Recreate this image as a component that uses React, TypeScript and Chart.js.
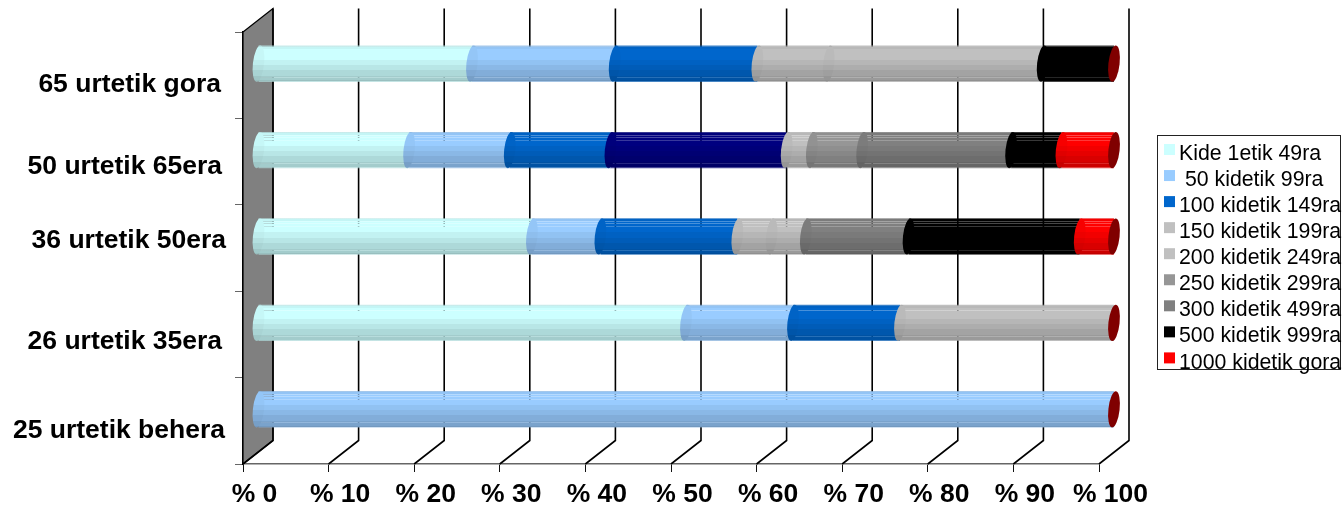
import React, { useEffect, useRef } from "react";
import { Chart, registerables } from "chart.js";

Chart.register(...registerables);

const categories = ["65 urtetik gora", "50 urtetik 65era", "36 urtetik 50era", "26 urtetik 35era", "25 urtetik behera"];

const kide1to49 = [25, 17.65, 32, 50, 0];
const kide50to99 = [16.67, 11.76, 8, 12.5, 100];
const kide100to149 = [16.67, 11.76, 16, 12.5, 0];
const kideNavy = [0, 20.59, 0, 0, 0];
const kide150to199 = [8.33, 2.94, 4, 25, 0];
const kide200to249 = [25, 0, 4, 0, 0];
const kide250to299 = [0, 5.88, 0, 0, 0];
const kide300to499 = [0, 17.4, 12, 0, 0];
const kide500to999 = [8.33, 5.88, 20, 0, 0];
const kide1000plus = [0, 6.13, 4, 0, 0];

const seriesLabels = ["Kide 1etik 49ra", " 50 kidetik 99ra", "100 kidetik 149ra", "", "150 kidetik 199ra", "200 kidetik 249ra", "250 kidetik 299ra", "300 kidetik 499ra", "500 kidetik 999ra", "1000 kidetik gora"];
const seriesColors = ["#ccffff", "#99ccff", "#0066cc", "#000080", "#c0c0c0", "#c0c0c0", "#969696", "#808080", "#000000", "#ff0000"];
const seriesValues = [kide1to49, kide50to99, kide100to149, kideNavy, kide150to199, kide200to249, kide250to299, kide300to499, kide500to999, kide1000plus];

const tickValues = [0, 10, 20, 30, 40, 50, 60, 70, 80, 90, 100];

// pseudo-3D projection
const FONT = "Liberation Sans";
const DEPTH_X = 30;
const DEPTH_Y = -23.5;
const BAR_DX = 15;
const BAR_DY = -11.5;
const CAP_RX = 5.6;
const CAP_TILT = 0.11;

// [start px of 36, shade, alpha]
const stripedBands: number[][] = [
  [0, 0.9, 0.78], [1, 0.96, 1], [3, 1, 0.72], [3.7, 1, 1], [5, 1, 0.72], [5.8, 1, 1], [8, 1, 0.78], [8.7, 1, 1],
  [14, 0.95, 1], [19, 0.9, 1], [24, 0.85, 1], [30, 0.8, 1], [31, 0.84, 0.85], [32, 0.8, 1], [34.5, 0.75, 1], [35.2, 0.85, 0.72],
];
const plainBands: number[][] = [
  [0, 0.9, 0.85], [1, 0.97, 1], [14, 0.93, 1], [19, 0.88, 1], [24, 0.83, 1], [30, 0.78, 1], [34.5, 0.74, 1], [35.2, 0.8, 0.85],
];

function rgb(hex: string) {
  return [1, 3, 5].map((i) => parseInt(hex.slice(i, i + 2), 16));
}

function bandGradient(ctx: CanvasRenderingContext2D, hex: string, cy: number, bands: number[][]) {
  const h = 36.4;
  const g = ctx.createLinearGradient(0, cy - h / 2, 0, cy + h / 2);
  const [r, gg, b] = rgb(hex);
  bands.forEach((band, i) => {
    const from = band[0] / 36;
    const to = i + 1 < bands.length ? bands[i + 1][0] / 36 : 1;
    const c = `rgba(${Math.round(r * band[1])},${Math.round(gg * band[1])},${Math.round(b * band[1])},${band[2]})`;
    g.addColorStop(from, c);
    g.addColorStop(Math.min(1, to), c);
  });
  return g;
}

const labelNudges = [[-5, 9], [-4, 5], [0, -7], [-4, 7], [-1, 10]];

const sceneryPlugin = {
  id: "scenery",
  beforeDatasetsDraw(chart: any) {
    const { ctx, scales, chartArea } = chart;
    const { top, bottom, left } = chartArea;
    ctx.save();
    ctx.beginPath();
    ctx.moveTo(left, top);
    ctx.lineTo(left + DEPTH_X, top + DEPTH_Y);
    ctx.lineTo(left + DEPTH_X, bottom + DEPTH_Y);
    ctx.lineTo(left, bottom);
    ctx.closePath();
    ctx.fillStyle = "#808080";
    ctx.fill();
    ctx.strokeStyle = "#000";
    ctx.lineWidth = 1.2;
    ctx.stroke();
    ctx.lineWidth = 1.6;
    tickValues.forEach((v) => {
      const x = scales.x.getPixelForValue(v);
      ctx.beginPath();
      ctx.moveTo(x, bottom);
      ctx.lineTo(x + DEPTH_X, bottom + DEPTH_Y);
      ctx.lineTo(x + DEPTH_X, top + DEPTH_Y);
      ctx.stroke();
    });
    ctx.restore();
    ctx.save();
    ctx.translate(BAR_DX, BAR_DY);
  },
  afterDatasetsDraw(chart: any) {
    const { ctx, scales } = chart;
    chart.data.datasets.forEach((ds: any, i: number) => {
      chart.getDatasetMeta(i).data.forEach((el: any, j: number) => {
        if (!ds.data[j]) return;
        ctx.beginPath();
        ctx.ellipse(el.base, el.y, CAP_RX, el.height / 2, CAP_TILT, 0, Math.PI * 2);
        ctx.fillStyle = bandGradient(ctx, seriesColors[i], el.y, plainBands);
        ctx.fill();
      });
    });
    categories.forEach((_, j) => {
      const cy = scales.y.getPixelForValue(j);
      ctx.beginPath();
      ctx.ellipse(scales.x.getPixelForValue(100), cy, CAP_RX, 18.2, CAP_TILT, 0, Math.PI * 2);
      ctx.fillStyle = "#800000";
      ctx.fill();
    });
    ctx.restore();
  },
  afterDraw(chart: any) {
    const { ctx, scales, chartArea } = chart;
    ctx.save();
    // category labels
    ctx.font = `bold 26.5px "${FONT}"`;
    ctx.fillStyle = "#000";
    ctx.textAlign = "right";
    ctx.textBaseline = "middle";
    categories.forEach((label, j) => {
      const [dx, dy] = labelNudges[j];
      ctx.fillText(label, chartArea.left - 17 + dx, scales.y.getPixelForValue(j) + dy);
    });
    // legend
    ctx.fillStyle = "#fff";
    ctx.strokeStyle = "#222";
    ctx.lineWidth = 1;
    ctx.fillRect(1157.5, 135.5, 183, 234);
    ctx.strokeRect(1157.5, 135.5, 183, 234);
    ctx.font = `21.3px "${FONT}"`;
    ctx.textAlign = "left";
    ctx.textBaseline = "alphabetic";
    let row = 0;
    seriesLabels.forEach((label, i) => {
      if (!label) return;
      const cy = 149.5 + row * 26.05;
      ctx.fillStyle = seriesColors[i];
      ctx.fillRect(1164, cy - 5.5, 11, 11);
      ctx.fillStyle = "#000";
      ctx.fillText(label, 1179, cy + 10.6);
      row += 1;
    });
    ctx.restore();
  },
};

export default function App() {
  const ref = useRef<HTMLCanvasElement>(null);
  useEffect(() => {
    document.body.style.margin = "0";
    const chart = new Chart(ref.current as HTMLCanvasElement, {
      type: "bar",
      data: {
        labels: categories,
        datasets: seriesValues.map((values, i) => ({
          label: seriesLabels[i],
          data: values,
          borderWidth: 0,
          categoryPercentage: 0.4213,
          barPercentage: 1,
          clip: false as any,
          backgroundColor: (c: any) => {
            const y = c.chart.scales?.y;
            if (!y || !c.chart.chartArea) return seriesColors[i];
            return bandGradient(c.chart.ctx, seriesColors[i], y.getPixelForValue(c.dataIndex), stripedBands);
          },
        })),
      },
      options: {
        indexAxis: "y",
        responsive: false,
        animation: false,
        devicePixelRatio: 1,
        layout: { autoPadding: false, padding: { top: 32, left: 0, right: 243, bottom: 0 } },
        plugins: { legend: { display: false }, tooltip: { enabled: false } },
        scales: {
          x: {
            stacked: true,
            min: 0,
            max: 100,
            afterFit: (s: any) => { s.height = 43; },
            afterBuildTicks: (s: any) => { s.ticks = tickValues.map((value) => ({ value })); },
            border: { color: "#666", width: 1.5 },
            grid: { drawOnChartArea: false, drawTicks: true, tickLength: 8, color: "#111", lineWidth: 1 },
            ticks: {
              autoSkip: false,
              maxRotation: 0,
              padding: 7,
              labelOffset: 11.5,
              color: "#000",
              font: { family: FONT, size: 26.5, weight: "bold" },
              callback: (v: any) => `% ${v}`,
            },
          },
          y: {
            stacked: true,
            afterFit: (s: any) => { s.width = 243; },
            border: { color: "#000", width: 1.2 },
            grid: { drawOnChartArea: false, drawTicks: true, tickLength: 8, color: "#666", lineWidth: 1, offset: true },
            ticks: { display: false },
          },
        },
      },
      plugins: [sceneryPlugin],
    } as any);
    return () => chart.destroy();
  }, []);
  return <canvas ref={ref} width={1342} height={507} style={{ display: "block" }} />;
}
